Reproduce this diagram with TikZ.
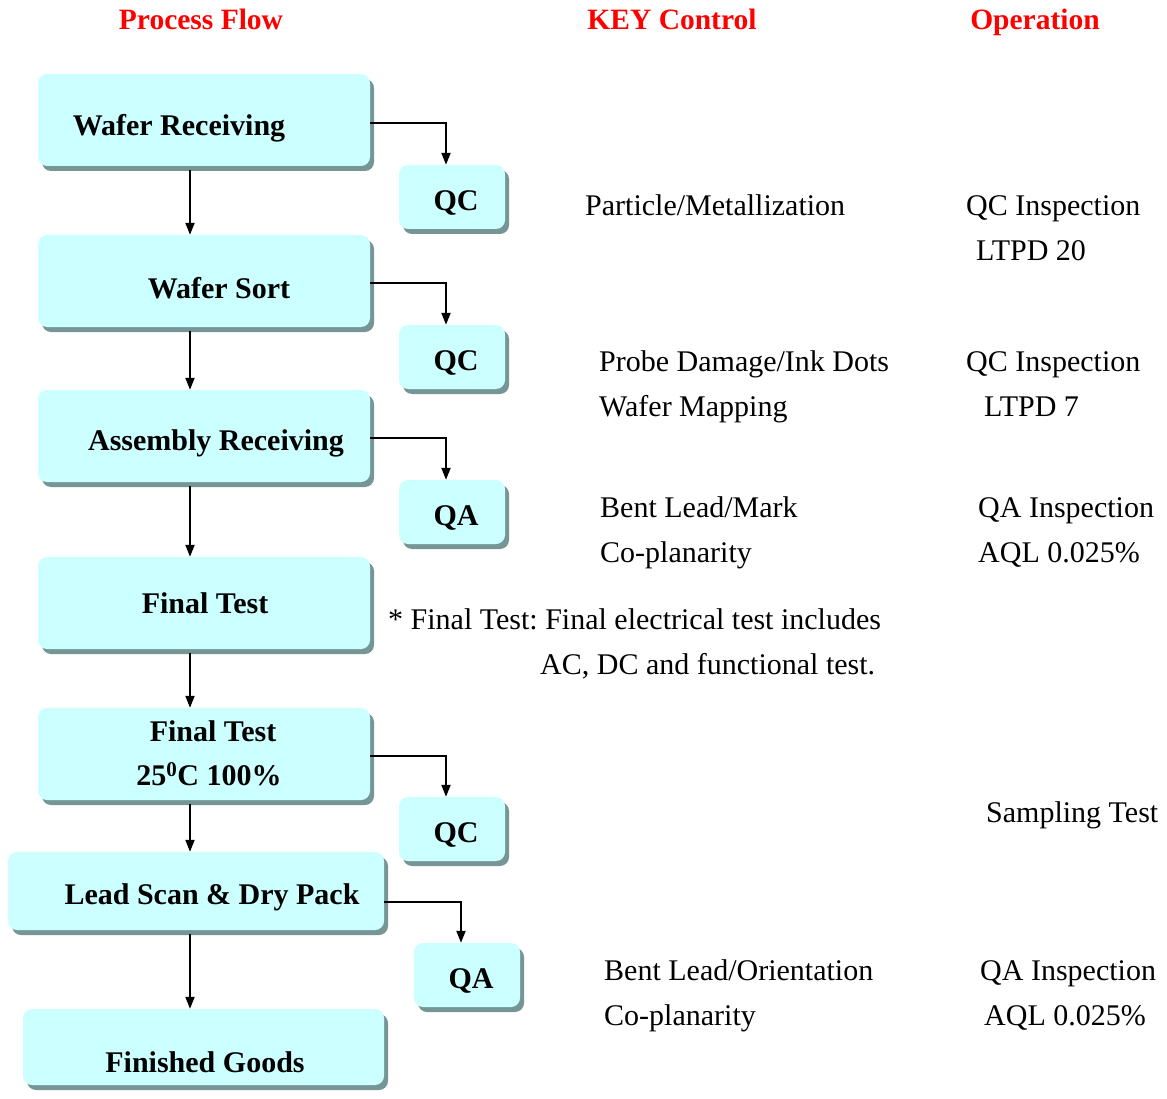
\documentclass[tikz,border=0pt]{standalone}
\usepackage{fontspec}
\setmainfont{Liberation Serif}
\usetikzlibrary{arrows.meta,shadows}
\definecolor{boxfill}{RGB}{204,255,255}
\definecolor{boxshadow}{RGB}{118,150,150}
\definecolor{hdr}{RGB}{255,0,0}
\frenchspacing
\tikzset{
  box/.style={draw=none, fill=boxfill, rounded corners=9pt, inner sep=0pt,
    drop shadow={shadow xshift=4pt, shadow yshift=-5pt, fill=boxshadow, opacity=1}},
  boxtext/.style={font=\fontsize{30}{44}\selectfont\bfseries, inner sep=0pt, align=center},
  note/.style={font=\fontsize{30}{36}\selectfont, inner sep=0pt, anchor=base west},
  header/.style={font=\fontsize{29.5}{36}\selectfont\bfseries, text=hdr, inner sep=0pt, anchor=base},
  arr/.style={line width=2pt, -{Triangle[length=12pt,width=9pt]}}
}
\begin{document}
\begin{tikzpicture}[x=1pt,y=-1pt]
\useasboundingbox (0,0) rectangle (1167,1099);
% headers
\node[header] (h1) at (201,30) {Process Flow};
\node[header] (h2) at (672,30) {KEY Control};
\node[header] (h3) at (1035,30) {Operation};
% process boxes
\node[box, minimum width=332pt, minimum height=92pt] (wr) at (204,120) {};
\node[boxtext] (wrt) at (179,128) {Wafer Receiving};
\node[box, minimum width=332pt, minimum height=92pt] (ws) at (204,281) {};
\node[boxtext] (wst) at (219,288) {Wafer Sort};
\node[box, minimum width=332pt, minimum height=92pt] (ar) at (204,436) {};
\node[boxtext] (art) at (216,443) {Assembly Receiving};
\node[box, minimum width=332pt, minimum height=92pt] (ft) at (204,603) {};
\node[boxtext] (ftt) at (205,603) {Final Test};
\node[box, minimum width=332pt, minimum height=92pt] (fq) at (204,754) {};
\node[boxtext] (fqt) at (209,753) {\makebox[0pt][c]{\hspace{8pt}Final Test}\\25\textsuperscript{0}C 100\%};
\node[box, minimum width=376pt, minimum height=78pt] (ls) at (196,891) {};
\node[boxtext] (lst) at (212,897) {Lead Scan \& Dry Pack};
\node[box, minimum width=361pt, minimum height=76pt] (fg) at (203.5,1047) {};
\node[boxtext] (fgt) at (205,1062) {Finished Goods};
% inspection boxes
\node[box, minimum width=106pt, minimum height=64pt] (q1) at (452,197) {};
\node[boxtext] (q1t) at (456,203) {QC};
\node[box, minimum width=106pt, minimum height=64pt] (q2) at (452,357) {};
\node[boxtext] (q2t) at (456,363) {QC};
\node[box, minimum width=106pt, minimum height=64pt] (q3) at (452,512) {};
\node[boxtext] (q3t) at (456,518) {QA};
\node[box, minimum width=106pt, minimum height=64pt] (q4) at (452,829) {};
\node[boxtext] (q4t) at (456,835) {QC};
\node[box, minimum width=106pt, minimum height=64pt] (q5) at (467,975) {};
\node[boxtext] (q5t) at (471,981) {QA};
% vertical flow arrows
\draw[arr] ([yshift=-4pt]wr.south -| 190,0) -- (ws.north -| 190,0);
\draw[arr] ([yshift=-4pt]ws.south -| 190,0) -- (ar.north -| 190,0);
\draw[arr] ([yshift=-4pt]ar.south -| 190,0) -- (ft.north -| 190,0);
\draw[arr] ([yshift=-4pt]ft.south -| 190,0) -- (fq.north -| 190,0);
\draw[arr] ([yshift=-4pt]fq.south -| 190,0) -- (ls.north -| 190,0);
\draw[arr] ([yshift=-4pt]ls.south -| 190,0) -- (fg.north -| 190,0);
% side connectors
\draw[arr] ([yshift=-3pt]wr.east) -| ([xshift=-6pt]q1.north);
\draw[arr] ([yshift=-2pt]ws.east) -| ([xshift=-6pt]q2.north);
\draw[arr] ([yshift=-2pt]ar.east) -| ([xshift=-6pt]q3.north);
\draw[arr] ([yshift=-2pt]fq.east) -| ([xshift=-6pt]q4.north);
\draw[arr] ([yshift=-11pt]ls.east) -| ([xshift=-6pt]q5.north);
% key control
\node[note] (k1) at (585,216) {Particle/Metallization};
\node[note] (k2) at (599,371) {Probe Damage/Ink Dots};
\node[note] (k3) at (599,416) {Wafer Mapping};
\node[note] (k4) at (600,517) {Bent Lead/Mark};
\node[note] (k5) at (600,562) {Co-planarity};
\node[note] (k6) at (388,629) {* Final Test: Final electrical test includes};
\node[note] (k7) at (540,674) {AC, DC and functional test.};
\node[note] (k8) at (604,980) {Bent Lead/Orientation};
\node[note] (k9) at (604,1025) {Co-planarity};
% operation
\node[note] (o1) at (966,216) {QC Inspection};
\node[note] (o2) at (976,261) {LTPD 20};
\node[note] (o3) at (966,371) {QC Inspection};
\node[note] (o4) at (984,416) {LTPD 7};
\node[note] (o5) at (978,517) {QA Inspection};
\node[note] (o6) at (978,562) {AQL 0.025\%};
\node[note] (o7) at (986,822) {Sampling Test};
\node[note] (o8) at (980,980) {QA Inspection};
\node[note] (o9) at (984,1025) {AQL 0.025\%};
\end{tikzpicture}
\end{document}
